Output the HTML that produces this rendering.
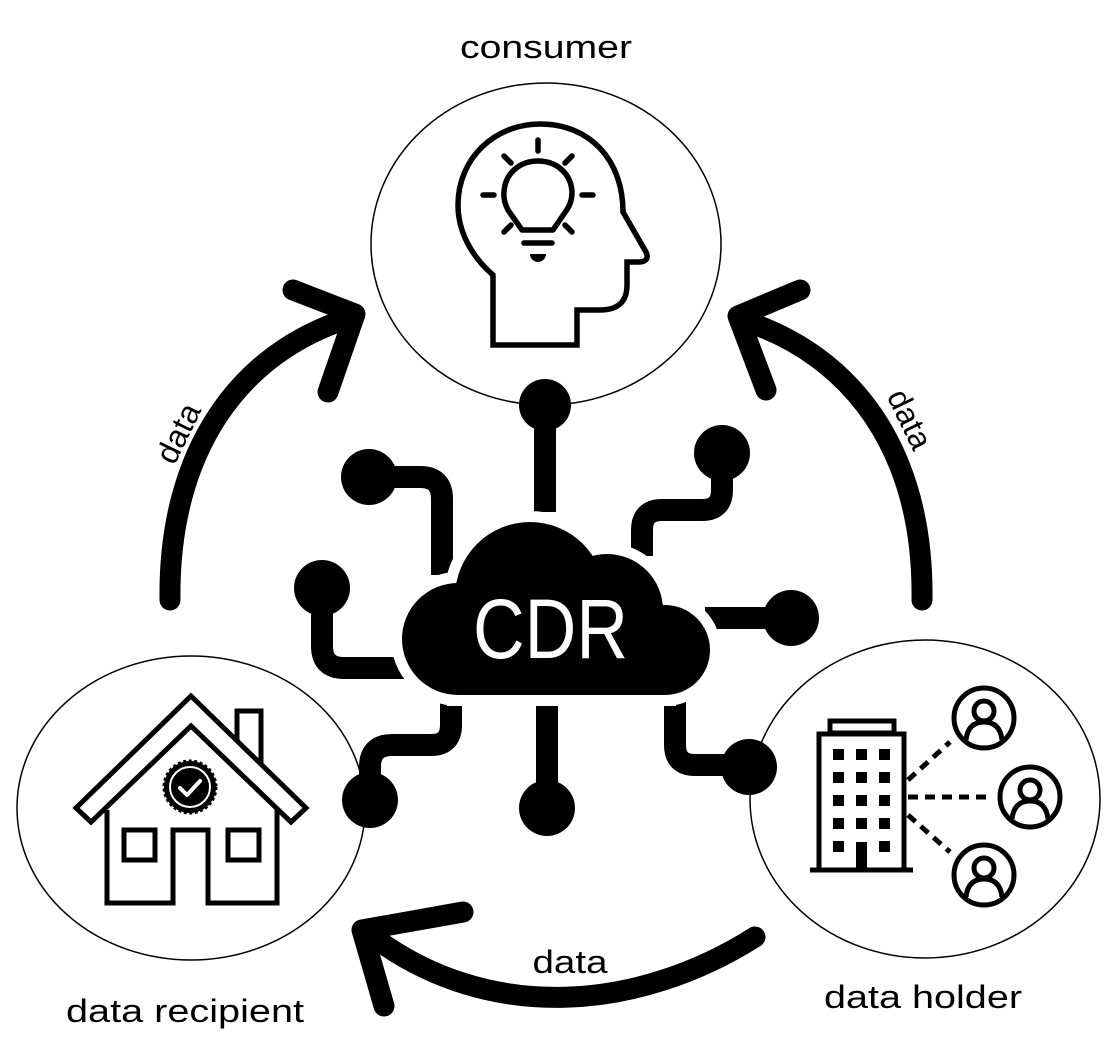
<!DOCTYPE html>
<html><head><meta charset="utf-8"><style>
html,body{margin:0;padding:0;background:#fff}
svg{display:block}
text{font-family:"Liberation Sans",sans-serif;fill:#000}
</style></head><body>
<svg width="1116" height="1064" viewBox="0 0 1116 1064" xmlns="http://www.w3.org/2000/svg">
<!-- ellipses -->
<ellipse cx="546" cy="244" rx="175" ry="161" fill="none" stroke="#000" stroke-width="1.5"/>
<ellipse cx="191" cy="808" rx="174" ry="152" fill="none" stroke="#000" stroke-width="1.5"/>
<ellipse cx="925" cy="799" rx="175" ry="159" fill="none" stroke="#000" stroke-width="1.5"/>

<!-- labels -->
<text x="546" y="58" font-size="32" text-anchor="middle" textLength="172" lengthAdjust="spacingAndGlyphs">consumer</text>
<text x="185" y="1022" font-size="32" text-anchor="middle" textLength="238" lengthAdjust="spacingAndGlyphs">data recipient</text>
<text x="923" y="1008" font-size="32" text-anchor="middle" textLength="198" lengthAdjust="spacingAndGlyphs">data holder</text>
<text x="570" y="973" font-size="32" text-anchor="middle" textLength="75" lengthAdjust="spacingAndGlyphs">data</text>
<text x="0" y="0" font-size="32" text-anchor="middle" transform="translate(188,438) rotate(-64)">data</text>
<text x="0" y="0" font-size="32" text-anchor="middle" transform="translate(900,424) rotate(64)">data</text>

<!-- arrows -->
<g fill="none" stroke="#000" stroke-width="21" stroke-linecap="round" stroke-linejoin="round">
<path d="M170 600 C168 450 240 352 350 318"/>
<path d="M293 290 L355 314 L328 392"/>
<path d="M922 600 C924 450 852 355 742 320"/>
<path d="M800 290 L738 316 L766 390"/>
<path d="M755 937 C640 1010 490 1025 372 936"/>
<path d="M463 912 L362 930 L384 1006"/>
</g>

<!-- connectors -->
<g fill="none" stroke="#000" stroke-width="22">
<path d="M545 405 V512"/>
<path d="M369 477 H420 Q442 477 442 499 V575"/>
<path d="M322 588 V646 Q322 668 344 668 H405"/>
<path d="M722 453 V490 Q722 510 702 510 H662 Q642 510 642 530 V556"/>
<path d="M705 618 H791"/>
<path d="M451 700 V725 Q451 745 431 745 H392 Q370 745 370 767 V800"/>
<path d="M547 700 V805"/>
<path d="M675 700 V745 Q675 765 695 765 H750"/>
</g>
<g fill="#000">
<circle cx="545" cy="405" r="26"/>
<circle cx="369" cy="477" r="28"/>
<circle cx="322" cy="588" r="28"/>
<circle cx="722" cy="453" r="28"/>
<circle cx="791" cy="618" r="28"/>
<circle cx="370" cy="800" r="28"/>
<circle cx="547" cy="808" r="28"/>
<circle cx="749" cy="767" r="28"/>
</g>

<!-- cloud (white halo then black) -->
<g fill="#fff" stroke="#fff" stroke-width="22">
<circle cx="458" cy="639" r="56"/><circle cx="530" cy="597" r="75"/>
<circle cx="607" cy="610" r="56"/><circle cx="665" cy="650" r="45"/>
<rect x="458" y="620" width="207" height="75"/>
</g>
<g fill="#000">
<circle cx="458" cy="639" r="56"/><circle cx="530" cy="597" r="75"/>
<circle cx="607" cy="610" r="56"/><circle cx="665" cy="650" r="45"/>
<rect x="458" y="620" width="207" height="75"/>
</g>
<text x="473" y="658" font-size="84" textLength="155" lengthAdjust="spacingAndGlyphs" style="fill:#fff">CDR</text>

<!-- head icon -->
<g fill="none" stroke="#000" stroke-width="5.5" stroke-linejoin="round" stroke-linecap="round">
<path d="M493 345 V275 C470 255 458 230 458 205 C458 158 495 124 540 124 C590 124 623 160 623 212 L646 252 Q650 261 640 262 H627 V285 Q627 310 600 310 H577 V345 Z" stroke-linecap="butt" stroke-linejoin="miter"/>
<path d="M522 230 L508 210 Q503 200 504 192 C505 173 520 161 538 161 C556 161 571 173 572 192 Q572 203 566 211 L555 227 L553 230 Z"/>
<path d="M538 140 V151 M504 156 L511 163 M572 156 L565 163 M483 195 H494 M582 195 H593 M504 232 L511 225 M572 232 L565 225 M524 243 H552"/>
</g>
<path d="M530 254 H546 A8 8 0 0 1 530 254 Z" fill="#000"/>

<!-- house icon -->
<g fill="#fff" stroke="#000" stroke-width="5">
<rect x="237" y="711" width="24" height="50"/>
<path d="M107 810 V903 H173 V830 H208 V903 H277 V810"/>
<polygon points="191,696 306,808 291,822 191,726 91,822 76,808"/>
<rect x="124" y="830" width="31" height="30"/>
<rect x="228" y="830" width="31" height="30"/>
</g>
<g>
<circle cx="190" cy="787" r="26" fill="#000" stroke="#000" stroke-width="3" stroke-dasharray="3 2.5"/>
<circle cx="190" cy="787" r="20" fill="#000" stroke="#fff" stroke-width="2"/>
<path d="M180 788 L187 795 L200 781" fill="none" stroke="#fff" stroke-width="4" stroke-linecap="round" stroke-linejoin="round"/>
</g>

<!-- building -->
<g fill="none" stroke="#000" stroke-width="5">
<rect x="830" y="721" width="64" height="12"/>
<rect x="819" y="734" width="85" height="136"/>
<path d="M810 870 H913"/>
</g>
<g fill="#000">
<rect x="833" y="749" width="11" height="11"/><rect x="856" y="749" width="11" height="11"/><rect x="879" y="749" width="11" height="11"/>
<rect x="833" y="772" width="11" height="11"/><rect x="856" y="772" width="11" height="11"/><rect x="879" y="772" width="11" height="11"/>
<rect x="833" y="795" width="11" height="11"/><rect x="856" y="795" width="11" height="11"/><rect x="879" y="795" width="11" height="11"/>
<rect x="833" y="818" width="11" height="11"/><rect x="856" y="818" width="11" height="11"/><rect x="879" y="818" width="11" height="11"/>
<rect x="833" y="841" width="11" height="11"/><rect x="856" y="842" width="11" height="28"/><rect x="879" y="841" width="11" height="11"/>
</g>
<g stroke="#000" stroke-width="5" stroke-dasharray="10 7" fill="none">
<path d="M908 780 L950 742"/>
<path d="M908 797 L990 797"/>
<path d="M908 815 L950 852"/>
</g>
<g fill="none" stroke="#000" stroke-width="5">
<circle cx="984" cy="718" r="30"/><circle cx="984" cy="711" r="10"/><path d="M966 740 Q968 722 984 722 Q1000 722 1002 740"/>
<circle cx="1030" cy="797" r="30"/><circle cx="1030" cy="790" r="10"/><path d="M1012 819 Q1014 801 1030 801 Q1046 801 1048 819"/>
<circle cx="984" cy="875" r="30"/><circle cx="984" cy="868" r="10"/><path d="M966 897 Q968 879 984 879 Q1000 879 1002 897"/>
</g>
</svg>
</body></html>
